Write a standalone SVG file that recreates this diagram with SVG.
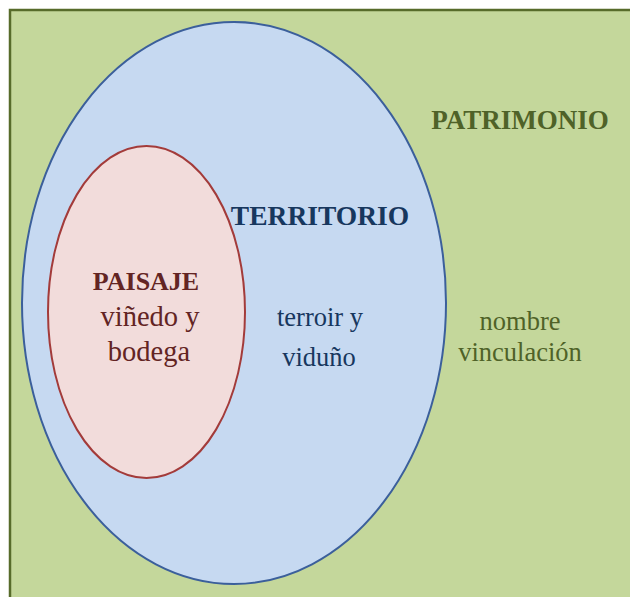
<svg xmlns="http://www.w3.org/2000/svg" width="630" height="597" viewBox="0 0 630 597">
<style>
text{font-family:"Liberation Serif","Times New Roman",serif;text-anchor:middle}
.b{font-weight:bold}
.g{fill:#4f6228}.t{fill:#17375e}.r{fill:#632423}
</style>
<rect width="630" height="597" fill="#ffffff"/>
<g id="patrimonio">
<rect x="10" y="10" width="630" height="600" fill="#c4d79b" stroke="#576b2a" stroke-width="2.5"/>
<text class="b g" x="520" y="129" font-size="27">PATRIMONIO</text>
<text class="g" x="520" y="330" font-size="26.5">nombre</text>
<text class="g" x="520" y="361" font-size="26.5">vinculación</text>
</g>
<g id="territorio">
<ellipse cx="234" cy="303" rx="212" ry="281" fill="#c6d9f1" stroke="#3b5f9b" stroke-width="2"/>
<text class="b t" x="320" y="225" font-size="27.5">TERRITORIO</text>
<text class="t" x="320" y="326" font-size="26.5">terroir y</text>
<text class="t" x="319" y="366" font-size="26.5">viduño</text>
</g>
<g id="paisaje">
<ellipse cx="146.5" cy="312" rx="98.5" ry="166" fill="#f2dcdb" stroke="#a33b3a" stroke-width="2"/>
<text class="b r" x="146" y="290" font-size="26">PAISAJE</text>
<text class="r" x="150" y="326" font-size="28.5">viñedo y</text>
<text class="r" x="149" y="361" font-size="28.5">bodega</text>
</g>
<g id="connectors"/>
</svg>
